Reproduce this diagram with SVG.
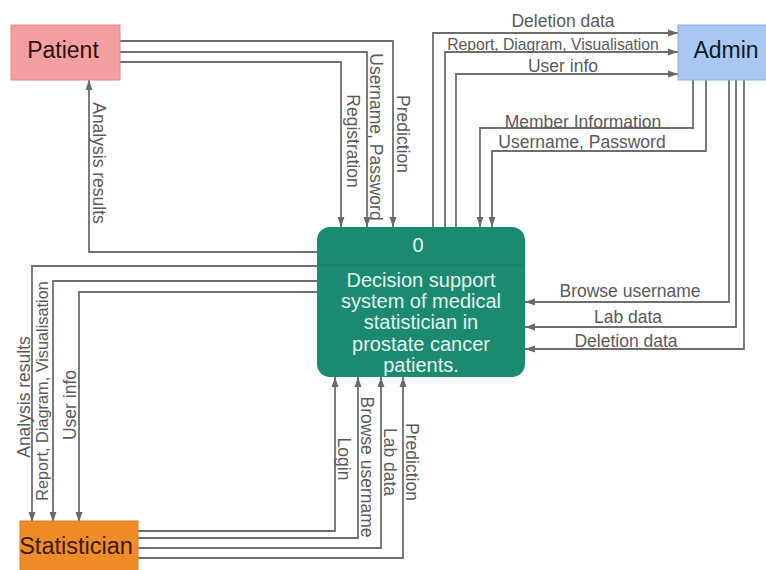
<svg xmlns="http://www.w3.org/2000/svg" width="766" height="570" viewBox="0 0 766 570">
  <defs>
    <marker id="arrow" viewBox="0 0 10 8" refX="10" refY="4" markerWidth="10" markerHeight="8" markerUnits="userSpaceOnUse" orient="auto">
      <path d="M0,0.5 L10,4 L0,7.5 Z" fill="#6a6a6a"/>
    </marker>
    <style>
      .flow { fill: none; stroke: #6e6e6e; stroke-width: 1.8; marker-end: url(#arrow); }
      .lbl { font-family: "Liberation Sans", Arial, sans-serif; font-size: 17.5px; fill: #5a5a5a; text-anchor: middle; }
      .ent { font-family: "Liberation Sans", Arial, sans-serif; font-size: 23px; text-anchor: middle; }
      .proc { font-family: "Liberation Sans", Arial, sans-serif; font-size: 20px; fill: #e4f3ef; text-anchor: middle; }
    </style>
  </defs>
  <rect width="766" height="570" fill="#ffffff"/>

  <!-- data flows -->
  <g id="connectors">
    <!-- Patient -> process -->
    <path class="flow" d="M120,41 H393 V227"/>
    <path class="flow" d="M120,52 H367 V227"/>
    <path class="flow" d="M120,62 H341 V227"/>
    <!-- process -> Patient -->
    <path class="flow" d="M317,252 H89 V80"/>
    <!-- process -> Admin -->
    <path class="flow" d="M433,227 V33 H678"/>
    <path class="flow" d="M445,227 V52 H678"/>
    <path class="flow" d="M456,227 V74 H678"/>
    <!-- Admin -> process (top) -->
    <path class="flow" d="M693,80 V128 H480 V227"/>
    <path class="flow" d="M706,80 V151 H492 V227"/>
    <!-- Admin -> process (right) -->
    <path class="flow" d="M729,80 V302 H525"/>
    <path class="flow" d="M736,80 V327 H525"/>
    <path class="flow" d="M744,80 V349 H525"/>
    <!-- process -> Statistician -->
    <path class="flow" d="M317,266 H32 V522"/>
    <path class="flow" d="M317,281 H53 V522"/>
    <path class="flow" d="M317,292 H79 V522"/>
    <!-- Statistician -> process -->
    <path class="flow" d="M138,531 H335 V377"/>
    <path class="flow" d="M138,538 H358 V377"/>
    <path class="flow" d="M138,548 H381 V377"/>
    <path class="flow" d="M138,558 H403 V377"/>
  </g>

  <!-- flow labels -->
  <g id="labels">
    <text class="lbl" transform="translate(397,134) rotate(90)">Prediction</text>
    <text class="lbl" transform="translate(370,137) rotate(90)">Username, Password</text>
    <text class="lbl" transform="translate(347,141) rotate(90)">Registration</text>
    <text class="lbl" transform="translate(93,163) rotate(90)">Analysis results</text>

    <text class="lbl" x="563" y="27">Deletion data</text>
    <text class="lbl" x="553" y="50" style="font-size:15.7px">Report, Diagram, Visualisation</text>
    <text class="lbl" x="563" y="72">User info</text>
    <text class="lbl" x="583" y="128">Member Information</text>
    <text class="lbl" x="582" y="148">Username, Password</text>

    <text class="lbl" x="630" y="297">Browse username</text>
    <text class="lbl" x="628" y="323">Lab data</text>
    <text class="lbl" x="626" y="347">Deletion data</text>

    <text class="lbl" transform="translate(30,397) rotate(-90)">Analysis results</text>
    <text class="lbl" transform="translate(48,391) rotate(-90)" style="font-size:16.3px">Report, Diagram, Visualisation</text>
    <text class="lbl" transform="translate(76,405) rotate(-90)">User info</text>

    <text class="lbl" transform="translate(338,459) rotate(90)">Login</text>
    <text class="lbl" transform="translate(361,467) rotate(90)">Browse username</text>
    <text class="lbl" transform="translate(384,462) rotate(90)">Lab data</text>
    <text class="lbl" transform="translate(406,462) rotate(90)">Prediction</text>
  </g>

  <!-- external entities -->
  <g id="patient">
    <rect x="11" y="25" width="109" height="55" fill="#f4a0a0" stroke="#e28a8a" stroke-width="1"/>
    <text class="ent" x="63" y="58" fill="#2a1010">Patient</text>
  </g>
  <g id="admin">
    <rect x="678" y="25" width="92" height="55" fill="#a8c8f2" stroke="#8fb0de" stroke-width="1"/>
    <text class="ent" x="726" y="58" fill="#10182a">Admin</text>
  </g>
  <g id="statistician">
    <rect x="20" y="521" width="118" height="55" fill="#f08c28" stroke="#d97a1c" stroke-width="1"/>
    <text class="ent" x="76" y="554" fill="#3a1a08" style="font-size:23.5px">Statistician</text>
  </g>

  <!-- process 0 -->
  <g id="process0">
    <rect x="317" y="227" width="208" height="150" rx="13" ry="13" fill="#1b8a70"/>
    <line x1="317" y1="265" x2="525" y2="265" stroke="#177a63" stroke-width="1.2"/>
    <text class="proc" x="418" y="252">0</text>
    <text class="proc" x="421" y="287">Decision support</text>
    <text class="proc" x="421" y="308">system of medical</text>
    <text class="proc" x="421" y="329">statistician in</text>
    <text class="proc" x="421" y="351">prostate cancer</text>
    <text class="proc" x="421" y="372">patients.</text>
  </g>
</svg>
